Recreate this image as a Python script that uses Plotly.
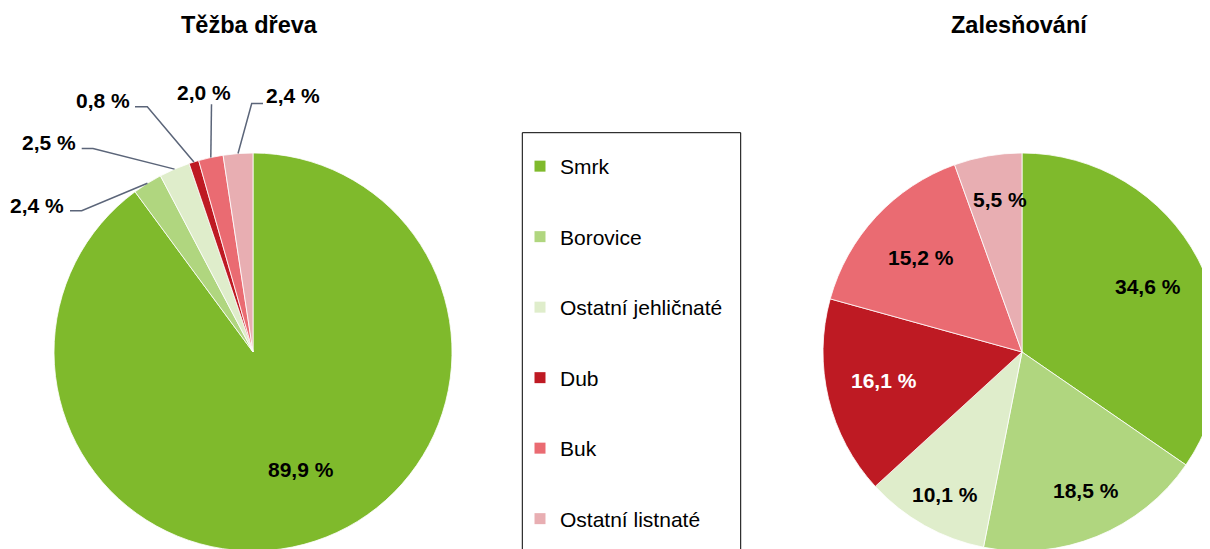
import math
import plotly.graph_objects as go

# ---------------- data ----------------
categories = ["Smrk", "Borovice", "Ostatní jehličnaté", "Dub", "Buk", "Ostatní listnaté"]
tezba_values = [89.9, 2.4, 2.5, 0.8, 2.0, 2.4]
zalesnovani_values = [34.6, 18.5, 10.1, 16.1, 15.2, 5.5]
titles = ["Těžba dřeva", "Zalesňování"]

# ---------------- style / layout ----------------
colors = ["#7FBA2C", "#B0D67F", "#DFEDCB", "#BE1A23", "#EA6B72", "#E8AEB2"]
W, H = 1240, 580          # figure size (page shows the top-left part)
OFF = 8                   # page body margin
FONT = "Liberation Sans, Arial, sans-serif"
LEADER = "#5B6579"

# pie geometry in screen pixels: (centre x, centre y, radius)
left_pie = (253, 352, 199)
right_pie = (1022, 352, 199)

# left pie inside label: slice index -> (radial factor, angle shift deg)
left_inside = {0: (0.638, -4.0)}
# left pie outside labels: slice index -> (label centre, leader start, elbow) in px
left_outside = {
    1: ((37.5, 205.5), (70, 210.7), (81.7, 210.7)),
    2: ((49, 142.5), (81.7, 148.5), (93, 148.5)),
    3: ((103, 100.5), (135, 106.7), (147.3, 106.7)),
    4: ((203.7, 92.3), (211.5, 104.3), (211.5, 104.3)),
    5: ((293.3, 96), (263, 103.5), (251.7, 103.5)),
}
# right pie inside labels: radial factor, angle shift (deg), text colour
right_factors = [0.715, 0.767, 0.816, 0.71, 0.694, 0.773]
right_shifts = [0.4, -2.8, -1.0, 1.7, 0.4, 1.8]
right_text_colors = ["black", "black", "black", "white", "black", "black"]


def fmt(v):
    return f"{v:.1f}".replace(".", ",") + " %"


def S(sx, sy):
    """screen pixel -> paper coordinates"""
    return (sx - OFF) / W, 1 - (sy - OFF) / H


def mid_fracs(values):
    tot = sum(values)
    out, cum = [], 0
    for v in values:
        out.append((cum + v / 2) / tot)
        cum += v
    return out


def polar(cx, cy, r, frac, shift_deg=0.0):
    a = 2 * math.pi * frac + math.radians(shift_deg)
    return cx + r * math.sin(a), cy - r * math.cos(a)


fig = go.Figure()

for vals, (cx, cy, r) in ((tezba_values, left_pie), (zalesnovani_values, right_pie)):
    x0, y1 = S(cx - r, cy - r)
    x1, y0 = S(cx + r, cy + r)
    fig.add_trace(go.Pie(
        labels=categories, values=vals, sort=False, direction="clockwise", rotation=0,
        marker=dict(colors=colors, line=dict(color="white", width=0.8)),
        textinfo="none", showlegend=False, hoverinfo="label+percent",
        domain=dict(x=[x0, x1], y=[y0, y1]),
    ))

# legend entries (one group per category for the wide spacing)
for name, c in zip(categories, colors):
    fig.add_trace(go.Scatter(
        x=[None], y=[None], mode="markers", name=name, legendgroup=name,
        marker=dict(symbol="square", size=11, color=c), hoverinfo="skip",
    ))

annotations = []
shapes = []


def label(text, sx, sy, size, color="black"):
    xp, yp = S(sx, sy)
    annotations.append(dict(text=f"<b>{text}</b>", x=xp, y=yp, xref="paper", yref="paper",
                            showarrow=False, xanchor="center", yanchor="middle",
                            font=dict(family=FONT, size=size, color=color)))


# titles
for t, xc in zip(titles, (249, 1019.7)):
    label(t, xc, 25.2, 23.5)

# left pie labels
lcx, lcy, lr = left_pie
lmids = mid_fracs(tezba_values)
for i, (f, sh) in left_inside.items():
    x, y = polar(lcx, lcy, lr * f, lmids[i], sh)
    label(fmt(tezba_values[i]), x, y, 21)
for i, (lab, start, elbow) in left_outside.items():
    label(fmt(tezba_values[i]), lab[0], lab[1], 21)
    ex, ey = polar(lcx, lcy, lr, lmids[i])
    pts = [S(*start), S(*elbow), S(ex, ey)]
    path = "M {} {} L {} {} L {} {}".format(*[c for p in pts for c in p])
    shapes.append(dict(type="path", path=path, xref="paper", yref="paper",
                       line=dict(color=LEADER, width=1.5)))

# right pie labels
rcx, rcy, rr = right_pie
rmids = mid_fracs(zalesnovani_values)
for v, f, sh, m, tc in zip(zalesnovani_values, right_factors, right_shifts, rmids,
                           right_text_colors):
    x, y = polar(rcx, rcy, rr * f, m, sh)
    label(fmt(v), x, y, 21, tc)

# legend frame (open at the bottom edge of the page)
bx0, by1 = S(522.3, 132.7)
bx1, by0 = S(740.7, 600)
shapes.append(dict(type="rect", xref="paper", yref="paper", x0=bx0, x1=bx1, y0=by0, y1=by1,
                   line=dict(color="black", width=1), fillcolor="rgba(0,0,0,0)"))

lx, ly = S(520, 146)
fig.update_layout(
    width=W, height=H, margin=dict(l=0, r=0, t=0, b=0),
    paper_bgcolor="white", plot_bgcolor="white",
    xaxis=dict(visible=False), yaxis=dict(visible=False),
    showlegend=True,
    legend=dict(x=lx, y=ly, xanchor="left", yanchor="top", bgcolor="rgba(0,0,0,0)",
                borderwidth=0, tracegroupgap=40.2,
                font=dict(family=FONT, size=21, color="black")),
    annotations=annotations, shapes=shapes,
    font=dict(family=FONT),
)

fig.write_html("out.html")
